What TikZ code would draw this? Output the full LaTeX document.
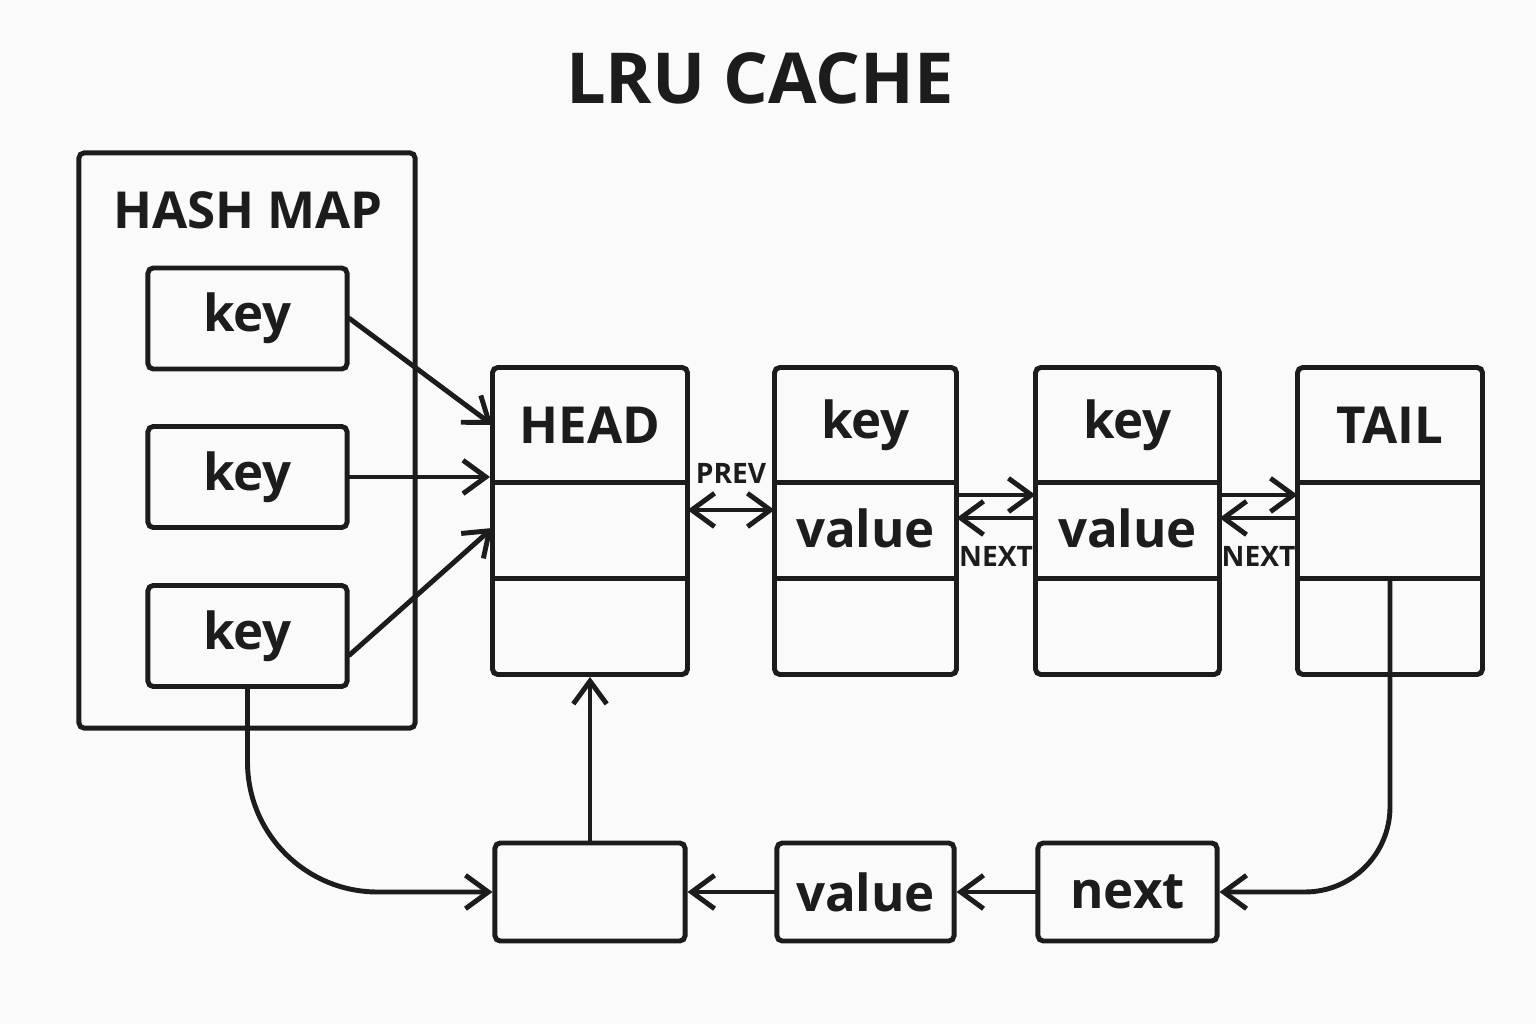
\documentclass[tikz,border=0pt]{standalone}
\usepackage{fontspec}
\setmainfont{Open Sans}
\usetikzlibrary{arrows.meta,positioning,fit}
\definecolor{ink}{HTML}{1C1C1C}
\definecolor{paper}{HTML}{FAFAFA}

\begin{document}
\begin{tikzpicture}[x=0.01cm, y=0.01cm, ink, line width=1.4pt, line cap=round,
  >={Straight Barb[length=6.5pt,width=9.5pt]},
  box/.style={draw, rounded corners=1.5pt, inner sep=0pt, font=\fontsize{14.5}{17}\selectfont\bfseries},
  cell/.style={inner sep=0pt, font=\fontsize{14.5}{17}\selectfont\bfseries},
  colbox/.style={draw, rounded corners=1.5pt, inner sep=0pt},
  lab/.style={font=\fontsize{8}{10}\selectfont\bfseries}]
\fill[paper] (0,0) rectangle (1536,1024);
\useasboundingbox (0,0) rectangle (1536,1024);

\node[font=\fontsize{20}{24}\selectfont\bfseries] (title) at (760,946) {LRU CACHE};

% hash map
\node[colbox, minimum width=3.36cm, minimum height=5.75cm] (hmap) at (247,583.5) {};
\node[font=\fontsize{14.5}{17}\selectfont\bfseries] (hmaplab) at (248,814) {HASH MAP};
\foreach \i/\y in {1/705.5, 2/547, 3/388}
  \node[box, minimum width=1.99cm, minimum height=1.01cm] (key\i) at (247.5,\y) {key};

% list nodes
\foreach \n/\x/\w/\t/\m in {head/590/1.90cm/HEAD/{}, n1/865.5/1.77cm/key/value, n2/1127.5/1.79cm/key/value, tail/1390/1.80cm/TAIL/{}}{
  \node[cell, minimum width=\w, minimum height=1.10cm] (\n-t) at (\x,599) {\t};
  \node[cell, minimum width=\w, minimum height=0.96cm] (\n-m) at (\x,496) {\m};
  \node[cell, minimum width=\w, minimum height=0.96cm] (\n-b) at (\x,400) {};
  \node[colbox, fit=(\n-t)(\n-b)] (\n) {};
  \draw (\n-t.south west) -- (\n-t.south east);
  \draw (\n-m.south west) -- (\n-m.south east);
}

% bottom row
\node[box, minimum width=1.90cm, minimum height=0.98cm] (slot) at (590,132) {};
\node[box, minimum width=1.77cm, minimum height=0.98cm] (val) at (865.5,132) {value};
\node[box, minimum width=1.79cm, minimum height=0.98cm] (next) at (1127.5,132) {next};

\draw[->] (key1.east) -- (head-t.west);
\draw[->] (key2.east) -- (key2.east -| head.west);
\draw[->] ([yshift=-0.19cm]key3.east) -- (head-m.west);
\draw[->, rounded corners=1.3cm] (key3.south) |- (slot.west);
\draw[->] (slot.north) -- (head.south);

\draw[<->] ([yshift=0.18cm]head-m.east) -- node[lab, above=0.12cm] (prev) {PREV} ([yshift=0.18cm]n1-m.west);
\draw[->] ([yshift=0.33cm]n1-m.east) -- ([yshift=0.33cm]n2-m.west);
\draw[->] ([yshift=0.10cm]n2-m.west) -- node[lab, below=0.14cm] (next1) {NEXT} ([yshift=0.10cm]n1-m.east);
\draw[->] ([yshift=0.33cm]n2-m.east) -- ([yshift=0.33cm]tail-m.west);
\draw[->] ([yshift=0.10cm]tail-m.west) -- node[lab, below=0.14cm] (next2) {NEXT} ([yshift=0.10cm]n2-m.east);

\draw[->, rounded corners=0.85cm] (tail-m.south) |- (next.east);
\draw[->] (next.west) -- (val.east);
\draw[->] (val.west) -- (slot.east);
\end{tikzpicture}
\end{document}
